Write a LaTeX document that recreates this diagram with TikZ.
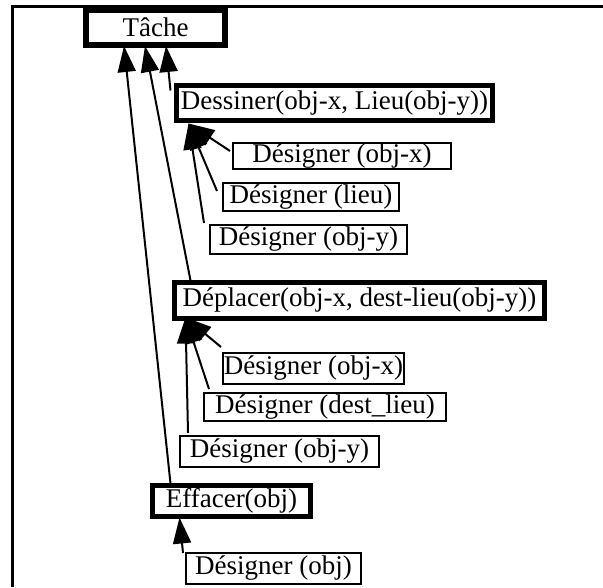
\documentclass[tikz,border=0pt]{standalone}
\usepackage{fontspec}
\setmainfont{Liberation Serif}
\usetikzlibrary{arrows.meta}
\tikzset{basic/.style={draw,fill=white,inner sep=0pt,outer sep=0pt,
  font=\fontsize{27}{29}\selectfont}}
\tikzset{goal/.style={basic,line width=5pt}}
\tikzset{leaf/.style={basic,line width=2pt}}
\begin{document}
\begin{tikzpicture}[
x = 1pt, y = -1pt, % pixel units, y downwards
> = {Triangle[length=26pt,width=18pt]}, % arrow head style
shorten > = 0pt,
line width = 2pt % line style
]
\useasboundingbox (0,0) rectangle (603,587);
\draw[line width=3pt] (603,6) -- (12,6) -- (12,587);

\node[goal,line width=6pt,minimum width=139pt,minimum height=35pt] (tache) at (155.5,27.5) {Tâche};

\node[goal,minimum width=316pt,minimum height=35pt] (dessiner) at (334.5,103) {Dessiner(obj-x, Lieu(obj-y))};
\node[leaf,minimum width=218pt,minimum height=26pt] (dsx) at (342,156) {Désigner (obj-x)};
\node[leaf,minimum width=176pt,minimum height=28pt] (dsl) at (311,197) {Désigner (lieu)};
\node[leaf,minimum width=197pt,minimum height=29pt] (dsy) at (308.5,239.5) {Désigner (obj-y)};

\node[goal,minimum width=370pt,minimum height=36pt] (deplacer) at (359.5,300.5) {Déplacer(obj-x, dest-lieu(obj-y))};
\node[leaf,minimum width=181pt,minimum height=31pt] (dpx) at (313.5,368.5) {Désigner (obj-x)};
\node[leaf,minimum width=242pt,minimum height=28pt] (dpl) at (325,407) {Désigner (dest\_lieu)};
\node[leaf,minimum width=199pt,minimum height=31pt] (dpy) at (279.5,451.5) {Désigner (obj-y)};

\node[goal,minimum width=158pt,minimum height=31pt] (effacer) at (231.5,501) {Effacer(obj)};
\node[leaf,minimum width=175pt,minimum height=31pt] (deo) at (273.5,568.5) {Désigner (obj)};

% sub-tasks to the task
\draw[->] ([xshift=18pt,yshift=2pt]effacer.north west) -- ([xshift=38pt,yshift=-1pt]tache.south west);
\draw[->] ([xshift=16pt,yshift=2pt]deplacer.north west) -- ([xshift=59pt,yshift=-1pt]tache.south west);
\draw[->] ([xshift=-6pt,yshift=-5pt]dessiner.north west) -- ([xshift=80pt,yshift=-1pt]tache.south west);

% designations to Dessiner
\draw[->] ([xshift=-3pt,yshift=-8pt]dsx.north west) -- ([xshift=12pt,yshift=-3pt]dessiner.south west);
\draw[->] ([xshift=-6pt,yshift=-8pt]dsl.north west) -- ([xshift=12pt,yshift=-3pt]dessiner.south west);
\draw[->] ([xshift=-6pt,yshift=2pt]dsy.north west) -- ([xshift=12pt,yshift=-3pt]dessiner.south west);

% designations to Deplacer
\draw[->] ([xshift=-2pt,yshift=6pt]dpx.north west) -- ([xshift=11pt,yshift=1pt]deplacer.south west);
\draw[->] ([xshift=5pt,yshift=4pt]dpl.north west) -- ([xshift=11pt,yshift=1pt]deplacer.south west);
\draw[->] ([xshift=8pt,yshift=3pt]dpy.north west) -- ([xshift=11pt,yshift=1pt]deplacer.south west);

% designation to Effacer
\draw[->] ([xshift=-3pt]deo.north west) -- ([xshift=27pt,yshift=-1pt]effacer.south west);
\end{tikzpicture}
\end{document}
